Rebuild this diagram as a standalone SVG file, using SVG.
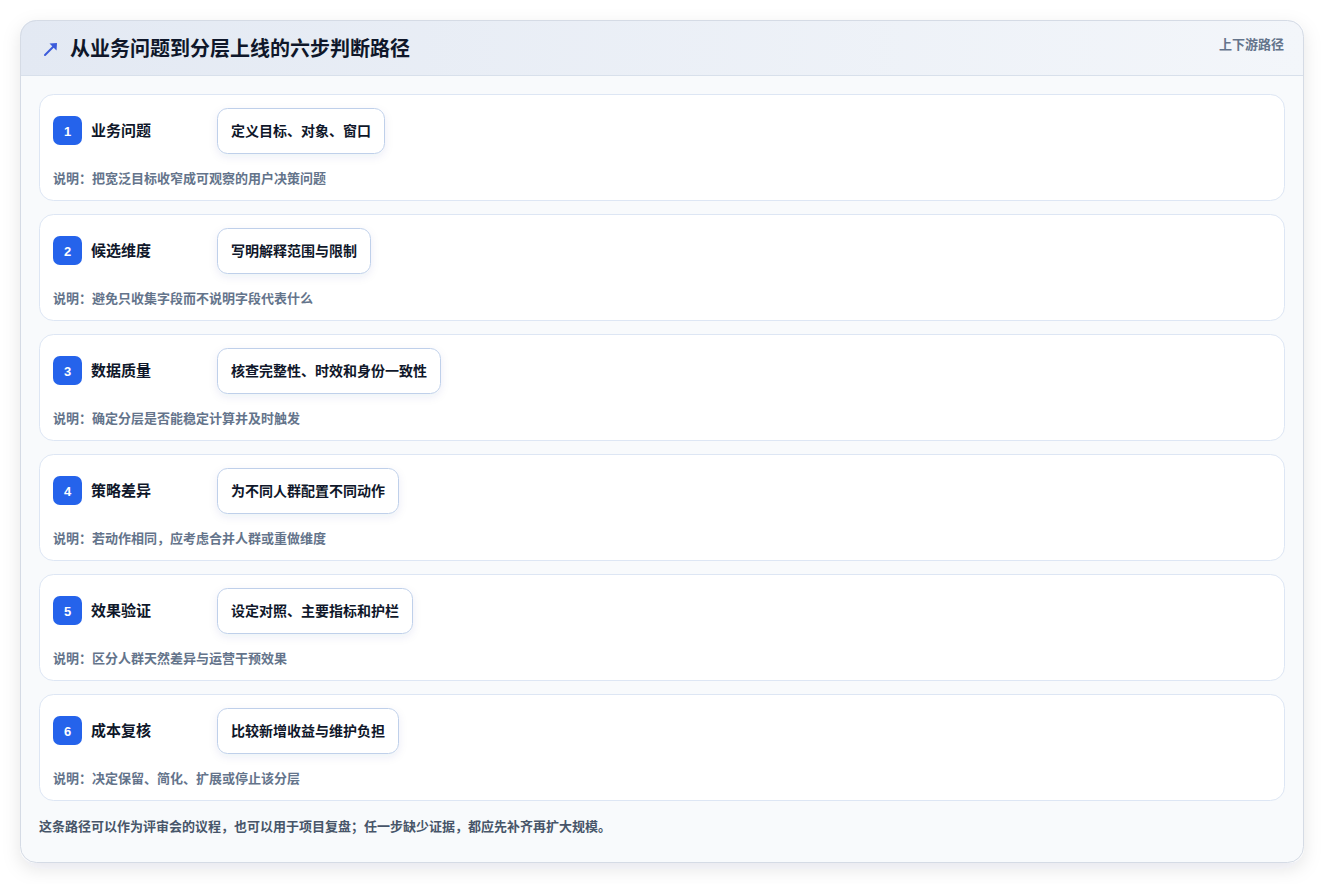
<svg xmlns="http://www.w3.org/2000/svg" width="1325" height="884" viewBox="0 0 1325 884">
<defs>
<linearGradient id="hdr" x1="0" y1="0" x2="1" y2="0">
<stop offset="0" stop-color="#e3e9f3"/>
<stop offset="1" stop-color="#f3f6fa"/>
</linearGradient>
<filter id="sh" x="-5%" y="-5%" width="110%" height="115%">
<feDropShadow dx="0" dy="6" stdDeviation="9" flood-color="#0f172a" flood-opacity="0.10"/>
</filter>
<filter id="psh" x="-20%" y="-30%" width="140%" height="180%">
<feDropShadow dx="0" dy="3" stdDeviation="4" flood-color="#1e3a8a" flood-opacity="0.08"/>
</filter>
<clipPath id="outerClip"><rect x="20" y="20" width="1284" height="843" rx="16"/></clipPath>
</defs>
<style>
text{font-family:"Noto Sans CJK SC","Liberation Sans",sans-serif;font-weight:700}
.card{fill:#ffffff;stroke:#dde6f4;stroke-width:1}
.badge{fill:#2563eb}
.num{fill:#ffffff;font-size:13px;text-anchor:middle;font-family:"Liberation Sans",sans-serif}
.ttl{fill:#0f172a;font-size:15px}
.pill{fill:#ffffff;stroke:#bfd0ea;stroke-width:1}
.ptxt{fill:#0f172a;font-size:14px}
.desc{fill:#64748b;font-size:13px}
</style>
<rect width="1325" height="884" fill="#ffffff"/>
<g id="frame">
<rect x="20" y="20" width="1284" height="843" rx="16" fill="#f8fafc" filter="url(#sh)"/>
<g clip-path="url(#outerClip)">
<rect x="20" y="20" width="1284" height="55" fill="url(#hdr)"/>
<line x1="20" y1="75.5" x2="1304" y2="75.5" stroke="#d8e0eb" stroke-width="1"/>
</g>
<rect x="20.5" y="20.5" width="1283" height="842" rx="16" fill="none" stroke="#d5dbe5" stroke-width="1"/>
<g id="icon">
<line x1="45" y1="55" x2="54.5" y2="45.5" stroke="#3b5bdb" stroke-width="2" stroke-linecap="round"/>
<path d="M49.5 43.5 L57 43 L56.5 50.5 Z" fill="#3b5bdb"/>
</g>
<text x="70" y="56" style="fill:#0f172a;font-size:20px">从业务问题到分层上线的六步判断路径</text>
<text x="1284" y="49" style="fill:#64748b;font-size:13px;text-anchor:end">上下游路径</text>
</g>
<g id="step1">
<rect class="card" x="39.5" y="94.5" width="1245" height="106" rx="14"/>
<rect class="badge" x="53" y="116" width="29" height="29" rx="7"/>
<text class="num" x="67.5" y="135.5">1</text>
<text class="ttl" x="91" y="136">业务问题</text>
<rect class="pill" x="217.5" y="108.5" width="167" height="45" rx="10" filter="url(#psh)"/>
<text class="ptxt" x="231" y="136">定义目标、对象、窗口</text>
<text class="desc" x="53" y="183">说明：把宽泛目标收窄成可观察的用户决策问题</text>
</g>
<g id="step2">
<rect class="card" x="39.5" y="214.5" width="1245" height="106" rx="14"/>
<rect class="badge" x="53" y="236" width="29" height="29" rx="7"/>
<text class="num" x="67.5" y="255.5">2</text>
<text class="ttl" x="91" y="256">候选维度</text>
<rect class="pill" x="217.5" y="228.5" width="153" height="45" rx="10" filter="url(#psh)"/>
<text class="ptxt" x="231" y="256">写明解释范围与限制</text>
<text class="desc" x="53" y="303">说明：避免只收集字段而不说明字段代表什么</text>
</g>
<g id="step3">
<rect class="card" x="39.5" y="334.5" width="1245" height="106" rx="14"/>
<rect class="badge" x="53" y="356" width="29" height="29" rx="7"/>
<text class="num" x="67.5" y="375.5">3</text>
<text class="ttl" x="91" y="376">数据质量</text>
<rect class="pill" x="217.5" y="348.5" width="223" height="45" rx="10" filter="url(#psh)"/>
<text class="ptxt" x="231" y="376">核查完整性、时效和身份一致性</text>
<text class="desc" x="53" y="423">说明：确定分层是否能稳定计算并及时触发</text>
</g>
<g id="step4">
<rect class="card" x="39.5" y="454.5" width="1245" height="106" rx="14"/>
<rect class="badge" x="53" y="476" width="29" height="29" rx="7"/>
<text class="num" x="67.5" y="495.5">4</text>
<text class="ttl" x="91" y="496">策略差异</text>
<rect class="pill" x="217.5" y="468.5" width="181" height="45" rx="10" filter="url(#psh)"/>
<text class="ptxt" x="231" y="496">为不同人群配置不同动作</text>
<text class="desc" x="53" y="543">说明：若动作相同，应考虑合并人群或重做维度</text>
</g>
<g id="step5">
<rect class="card" x="39.5" y="574.5" width="1245" height="106" rx="14"/>
<rect class="badge" x="53" y="596" width="29" height="29" rx="7"/>
<text class="num" x="67.5" y="615.5">5</text>
<text class="ttl" x="91" y="616">效果验证</text>
<rect class="pill" x="217.5" y="588.5" width="195" height="45" rx="10" filter="url(#psh)"/>
<text class="ptxt" x="231" y="616">设定对照、主要指标和护栏</text>
<text class="desc" x="53" y="663">说明：区分人群天然差异与运营干预效果</text>
</g>
<g id="step6">
<rect class="card" x="39.5" y="694.5" width="1245" height="106" rx="14"/>
<rect class="badge" x="53" y="716" width="29" height="29" rx="7"/>
<text class="num" x="67.5" y="735.5">6</text>
<text class="ttl" x="91" y="736">成本复核</text>
<rect class="pill" x="217.5" y="708.5" width="181" height="45" rx="10" filter="url(#psh)"/>
<text class="ptxt" x="231" y="736">比较新增收益与维护负担</text>
<text class="desc" x="53" y="783">说明：决定保留、简化、扩展或停止该分层</text>
</g>
<g id="connectors"/>
<g id="footer">
<text x="39" y="831" style="fill:#475569;font-size:13px">这条路径可以作为评审会的议程，也可以用于项目复盘；任一步缺少证据，都应先补齐再扩大规模。</text>
</g>
</svg>
